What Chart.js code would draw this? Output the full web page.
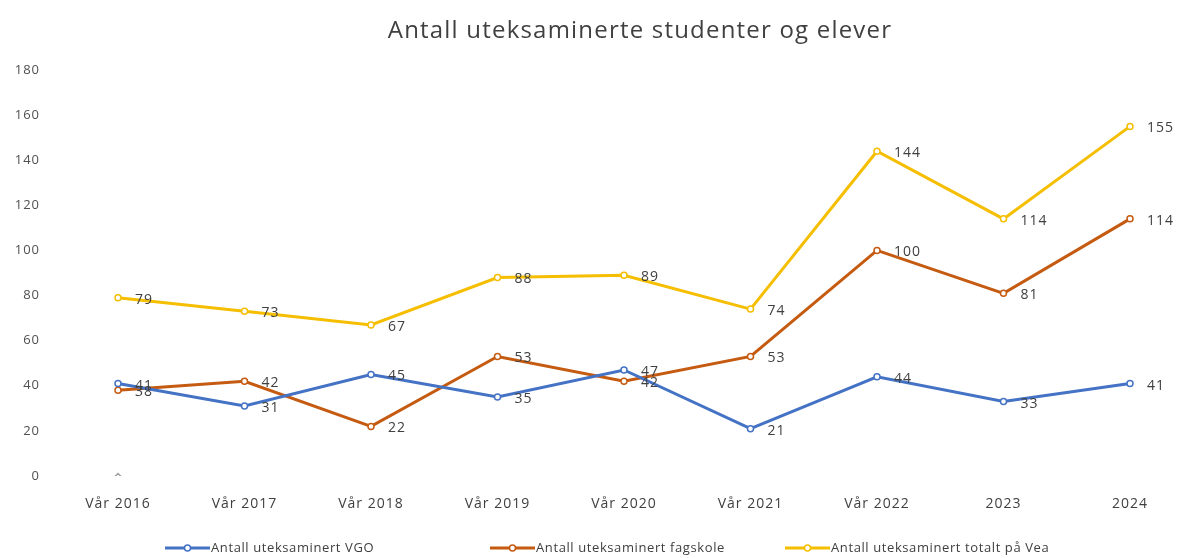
<!DOCTYPE html>
<html><head><meta charset="utf-8">
<script src="https://cdn.jsdelivr.net/npm/chart.js@4.4.1/dist/chart.umd.min.js"></script>
<style>html,body{margin:0;padding:0;background:#fff;}#wrap{width:1186px;height:558px;}</style>
</head><body><div id="wrap"><canvas id="c" width="1186" height="558"></canvas></div>
<script>
const categories = ["Vår 2016","Vår 2017","Vår 2018","Vår 2019","Vår 2020","Vår 2021","Vår 2022","2023","2024"];
const vgo = [41,31,45,35,47,21,44,33,41];
const fagskole = [38,42,22,53,42,53,100,81,114];
const totalt = [79,73,67,88,89,74,144,114,155];
const stray = [0,null,null,null,null,null,null,null,null];
const seriesNames = ["Antall uteksaminert VGO","Antall uteksaminert fagskole","Antall uteksaminert totalt på Vea"];
const seriesColors = ['#4472C4','#C55A11','#F5BE00'];
const titleText = "Antall uteksaminerte studenter og elever";
const FONT = "'Open Sans', 'Liberation Sans', sans-serif";
const legendX = [165, 490, 785];

const spacingPlugin = {
  id: 'spacing',
  beforeDraw(chart) { chart.ctx.letterSpacing = '1px'; }
};
const labelPlugin = {
  id: 'vlabels',
  afterDatasetsDraw(chart) {
    const ctx = chart.ctx;
    ctx.save();
    ctx.letterSpacing = '1px';
    ctx.font = "14px " + FONT;
    ctx.fillStyle = "#404040";
    ctx.textAlign = "left";
    ctx.textBaseline = "middle";
    for (let d = 0; d < 3; d++) {
      const meta = chart.getDatasetMeta(d);
      meta.data.forEach((pt, i) => {
        const v = chart.data.datasets[d].data[i];
        ctx.fillText(String(v), pt.x + 17, pt.y + 2);
      });
    }
    ctx.restore();
  }
};
const decorPlugin = {
  id: 'decor',
  afterDraw(chart) {
    const ctx = chart.ctx;
    ctx.save();
    ctx.letterSpacing = '1.2px';
    ctx.font = "24px " + FONT;
    ctx.fillStyle = "#404040";
    ctx.textAlign = "center";
    ctx.textBaseline = "middle";
    ctx.fillText(titleText, 640, 31);
    ctx.letterSpacing = '0.6px';
    ctx.font = "13px " + FONT;
    ctx.textAlign = "left";
    const y = 548;
    for (let i = 0; i < 3; i++) {
      const x = legendX[i];
      ctx.strokeStyle = seriesColors[i];
      ctx.lineWidth = 3;
      ctx.beginPath(); ctx.moveTo(x, y); ctx.lineTo(x + 45, y); ctx.stroke();
      ctx.fillStyle = '#ffffff';
      ctx.lineWidth = 1.5;
      ctx.beginPath(); ctx.arc(x + 22.5, y, 3, 0, Math.PI * 2); ctx.fill(); ctx.stroke();
      ctx.fillStyle = "#404040";
      ctx.fillText(seriesNames[i], x + 46, y);
    }
    ctx.restore();
  }
};

function ds(label, data, color) {
  return { label, data, borderColor: color, backgroundColor: color,
    borderWidth: 3, pointRadius: 3, pointBorderWidth: 1.5,
    pointBackgroundColor: '#ffffff', pointBorderColor: color, tension: 0 };
}

new Chart(document.getElementById('c'), {
  type: 'line',
  data: {
    labels: categories,
    datasets: [
      ds(seriesNames[0], vgo, seriesColors[0]),
      ds(seriesNames[1], fagskole, seriesColors[1]),
      ds(seriesNames[2], totalt, seriesColors[2]),
      { label: '', data: stray, showLine: false, pointRadius: 2.5, pointStyle: 'rectRot',
        borderColor: '#a0a0a0', backgroundColor: '#ffffff', borderWidth: 1.5 }
    ]
  },
  plugins: [spacingPlugin, labelPlugin, decorPlugin],
  options: {
    responsive: false, animation: false,
    layout: { padding: { left: 0, right: 56, top: 70, bottom: 42 } },
    plugins: {
      title: { display: false },
      tooltip: { enabled: false },
      legend: { display: false }
    },
    scales: {
      x: {
        offset: false,
        grid: { display: false, drawTicks: false },
        border: { display: false },
        afterFit: (s) => { s.height = 40; s.paddingLeft = 0; s.paddingRight = 0; },
        ticks: { color: '#404040', font: { family: FONT, size: 14 }, padding: 20, maxRotation: 0 }
      },
      y: {
        min: 0, max: 180,
        grid: { display: false, drawTicks: false },
        border: { display: false },
        afterFit: (s) => { s.width = 118; s.paddingTop = 0; s.paddingBottom = 0; },
        ticks: { stepSize: 20, color: '#505050', font: { family: FONT, size: 13 }, padding: 78 }
      }
    }
  }
});
</script></body></html>
